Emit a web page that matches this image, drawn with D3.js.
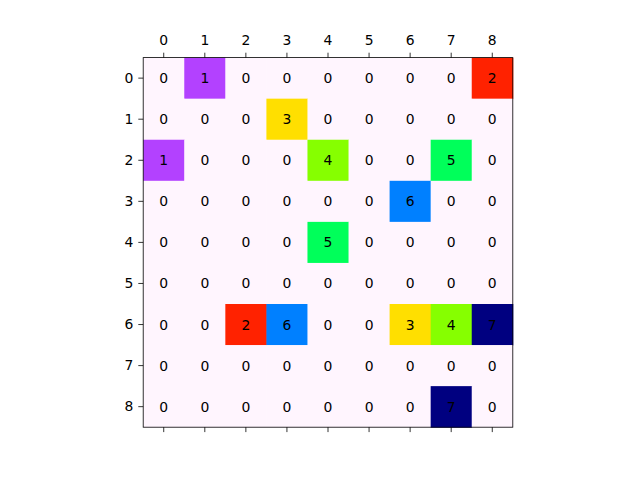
<!DOCTYPE html>
<html><head><meta charset="utf-8">
<script src="https://cdn.jsdelivr.net/npm/d3@7"></script>
<style>body{margin:0;background:#fff}svg{display:block}text{font-family:"DejaVu Sans",sans-serif}</style>
</head><body>
<svg id="c" width="640" height="480"></svg>
<script>
const rowLabels = ["0","1","2","3","4","5","6","7","8"];
const colLabels = ["0","1","2","3","4","5","6","7","8"];
const matrix = [
  [0,1,0,0,0,0,0,0,2],
  [0,0,0,3,0,0,0,0,0],
  [1,0,0,0,4,0,0,5,0],
  [0,0,0,0,0,0,6,0,0],
  [0,0,0,0,5,0,0,0,0],
  [0,0,0,0,0,0,0,0,0],
  [0,0,2,6,0,0,3,4,7],
  [0,0,0,0,0,0,0,0,0],
  [0,0,0,0,0,0,0,7,0]
];
const palette = ["#fff5fe","#b341ff","#ff2200","#ffdf00","#86ff00","#00ff5a","#0080ff","#000080"];

const svg = d3.select("#c");
const L = 143.2, T = 57.6, S = 369.6;
const x = d3.scaleBand().domain(colLabels).range([L, L+S]);
const y = d3.scaleBand().domain(rowLabels).range([T, T+S]);
const color = d3.scaleOrdinal().domain(d3.range(8)).range(palette);

const cells = [];
matrix.forEach((row,i)=>row.forEach((v,j)=>cells.push({r:rowLabels[i],c:colLabels[j],v})));

svg.append("g").selectAll("rect").data(cells).join("rect")
  .attr("x",d=>x(d.c)).attr("y",d=>y(d.r))
  .attr("width",x.bandwidth()+0.5).attr("height",y.bandwidth()+0.5)
  .attr("fill",d=>color(d.v));

svg.append("g").selectAll("text").data(cells).join("text")
  .attr("x",d=>x(d.c)+x.bandwidth()/2).attr("y",d=>y(d.r)+y.bandwidth()/2)
  .attr("text-anchor","middle").attr("dominant-baseline","central")
  .attr("font-size","13.9px").attr("fill","#000").text(d=>d.v);

svg.append("rect").attr("x",L).attr("y",T).attr("width",S).attr("height",S)
  .attr("fill","none").attr("stroke","#000").attr("stroke-width",0.8);

function styleAxis(g){
  g.select(".domain").remove();
  g.selectAll(".tick line").attr("stroke","#000").attr("stroke-width",0.8);
  g.selectAll(".tick text").attr("font-size","13.9px").attr("fill","#000").attr("font-family","DejaVu Sans, sans-serif");
}
svg.append("g").attr("transform",`translate(0,${T})`)
  .call(d3.axisTop(x).tickSize(4.9).tickPadding(7.3)).call(styleAxis);
svg.append("g").attr("transform",`translate(0,${T+S})`)
  .call(d3.axisBottom(x).tickSize(4.9).tickFormat("")).call(styleAxis);
svg.append("g").attr("transform",`translate(${L},0)`)
  .call(d3.axisLeft(y).tickSize(4.9).tickPadding(4.9)).call(styleAxis);
</script>
</body></html>
